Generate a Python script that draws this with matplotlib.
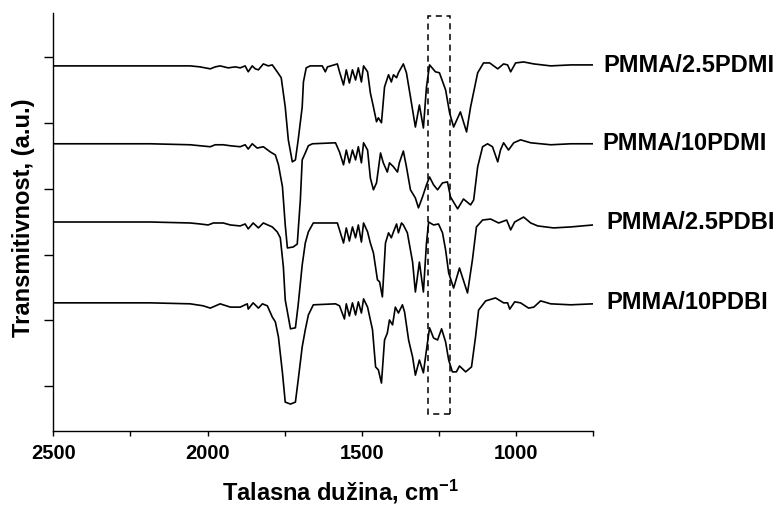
import matplotlib
matplotlib.use("Agg")
import matplotlib.pyplot as plt
from matplotlib.patches import Rectangle
from matplotlib.transforms import blended_transform_factory

plt.rcParams["font.family"] = ["Liberation Sans", "DejaVu Sans"]
plt.rcParams["font.weight"] = "bold"
plt.rcParams["mathtext.fontset"] = "custom"
plt.rcParams["mathtext.rm"] = "Liberation Sans:bold"
plt.rcParams["mathtext.bf"] = "Liberation Sans:bold"
plt.rcParams["mathtext.default"] = "bf"

# ------------------------------------------------------------
# data (stacked transmittance in a.u.)
# ------------------------------------------------------------

wn_25pdmi = [2500, 2348, 2186, 2056, 2024, 1991, 1975, 1959, 1933, 1910, 1894, 1878, 1868, 1855,
             1845, 1835, 1819, 1803, 1790, 1774, 1761, 1748, 1738, 1725, 1715, 1706, 1693, 1689,
             1680, 1667, 1628, 1618, 1611, 1579, 1572, 1559, 1550, 1540, 1530, 1520, 1511, 1501,
             1494, 1481, 1472, 1462, 1452, 1446, 1436, 1426, 1413, 1404, 1397, 1387, 1381, 1365,
             1355, 1342, 1326, 1313, 1300, 1290, 1280, 1261, 1248, 1228, 1215, 1202, 1180, 1160,
             1147, 1124, 1105, 1085, 1059, 1040, 1027, 1017, 1001, 975, 942, 887, 822, 750]
t_25pdmi = [117.4, 117.4, 117.4, 117.4, 117.1, 116.5, 117.1, 117.4, 116.8, 117.1, 116.8, 117.4,
            115.6, 117.4, 116.5, 116.2, 118.0, 117.4, 117.7, 115.6, 113.8, 104.9, 94.9, 88.2,
            88.8, 94.9, 104.9, 112.5, 116.8, 117.4, 117.4, 115.6, 117.1, 118.0, 115.6, 111.6,
            116.2, 112.2, 116.2, 113.1, 116.8, 112.5, 117.4, 115.6, 109.2, 104.9, 100.4, 101.6,
            100.1, 111.0, 114.7, 112.5, 114.7, 113.8, 115.3, 118.0, 115.3, 108.0, 98.8, 105.5,
            98.5, 111.0, 117.7, 115.6, 115.3, 110.1, 103.1, 98.8, 103.4, 97.3, 104.9, 115.3,
            118.3, 118.3, 116.5, 118.0, 117.7, 115.6, 118.3, 118.6, 118.0, 117.4, 117.7, 117.7]

wn_10pdmi = [2500, 2348, 2186, 2056, 2024, 1991, 1975, 1949, 1926, 1894, 1878, 1868, 1855, 1839,
             1819, 1796, 1780, 1770, 1757, 1748, 1741, 1722, 1709, 1699, 1693, 1683, 1673, 1660,
             1585, 1572, 1559, 1550, 1540, 1530, 1520, 1511, 1501, 1494, 1481, 1472, 1462, 1452,
             1439, 1430, 1417, 1410, 1397, 1384, 1378, 1365, 1355, 1342, 1326, 1316, 1303, 1290,
             1280, 1267, 1254, 1238, 1222, 1212, 1189, 1170, 1147, 1137, 1124, 1108, 1092, 1076,
             1059, 1050, 1040, 1024, 1007, 985, 952, 887, 822, 750]
t_10pdmi = [93.7, 93.7, 93.7, 93.4, 93.1, 92.8, 93.4, 93.4, 93.1, 92.8, 93.4, 92.1, 93.7, 92.4,
            92.8, 91.2, 90.3, 87.3, 80.6, 69.0, 62.0, 62.3, 63.2, 76.6, 88.8, 90.9, 93.1, 93.7,
            94.0, 91.2, 87.3, 91.8, 87.9, 91.8, 88.8, 92.8, 87.9, 94.0, 91.8, 83.3, 79.7, 81.8,
            90.9, 87.9, 85.1, 87.9, 86.7, 85.1, 87.9, 91.5, 86.7, 79.7, 77.2, 74.2, 77.5, 81.2,
            83.6, 81.2, 79.7, 81.8, 82.1, 77.5, 73.9, 76.9, 75.1, 76.6, 86.7, 92.8, 93.7, 92.8,
            88.2, 91.8, 94.0, 91.8, 94.0, 94.9, 94.0, 93.4, 93.7, 93.7]

wn_25pdbi = [2500, 2348, 2186, 2056, 2024, 1998, 1981, 1949, 1926, 1894, 1878, 1868, 1852, 1835,
             1819, 1790, 1774, 1764, 1754, 1748, 1731, 1715, 1706, 1693, 1683, 1673, 1657, 1579,
             1572, 1559, 1550, 1540, 1530, 1520, 1511, 1501, 1494, 1481, 1472, 1462, 1449, 1442,
             1433, 1423, 1413, 1404, 1397, 1387, 1381, 1371, 1365, 1352, 1335, 1326, 1313, 1300,
             1290, 1283, 1267, 1251, 1238, 1228, 1218, 1202, 1183, 1157, 1141, 1128, 1108, 1082,
             1056, 1030, 1017, 1004, 975, 952, 929, 878, 822, 750]
t_25pdbi = [69.9, 69.9, 69.9, 69.6, 69.3, 69.0, 69.6, 69.6, 69.0, 68.7, 69.3, 67.8, 69.6, 68.1,
            69.6, 68.4, 66.9, 65.1, 56.2, 46.2, 37.4, 37.7, 44.7, 56.8, 63.5, 66.9, 69.6, 69.6,
            67.5, 63.5, 68.1, 64.1, 68.4, 65.1, 69.0, 63.8, 69.6, 66.9, 63.5, 60.5, 52.3, 51.7,
            47.1, 63.5, 66.6, 65.1, 66.9, 69.3, 66.6, 69.6, 69.0, 66.6, 57.7, 48.6, 57.7, 48.6,
            63.5, 69.9, 69.0, 69.3, 66.6, 61.4, 54.4, 49.8, 55.9, 48.3, 58.4, 68.4, 70.5, 70.8,
            69.6, 70.5, 67.5, 69.9, 71.4, 69.6, 68.7, 68.1, 68.4, 69.0]

wn_10pdbi = [2500, 2348, 2186, 2056, 2014, 1991, 1959, 1926, 1894, 1871, 1868, 1852, 1835, 1822,
             1806, 1790, 1780, 1770, 1757, 1748, 1731, 1715, 1706, 1693, 1683, 1673, 1657, 1585,
             1572, 1556, 1550, 1540, 1530, 1520, 1511, 1501, 1494, 1481, 1465, 1455, 1446, 1436,
             1426, 1417, 1410, 1400, 1391, 1381, 1368, 1361, 1348, 1335, 1326, 1313, 1300, 1290,
             1280, 1267, 1254, 1241, 1228, 1218, 1206, 1193, 1183, 1163, 1144, 1131, 1121, 1098,
             1066, 1040, 1027, 1020, 1004, 985, 959, 942, 920, 887, 822, 750]
t_10pdbi = [45.3, 45.3, 45.3, 45.0, 44.4, 43.7, 45.0, 44.0, 44.0, 45.0, 43.4, 45.3, 43.7, 45.0,
            44.4, 41.0, 39.5, 34.9, 24.0, 15.1, 14.5, 15.1, 21.8, 31.9, 37.1, 41.6, 44.7, 45.0,
            44.4, 40.4, 45.0, 41.3, 45.3, 41.6, 45.6, 42.2, 46.5, 44.0, 37.1, 25.8, 24.9, 20.9,
            34.0, 36.1, 40.1, 38.6, 44.0, 42.2, 44.7, 42.5, 34.0, 28.8, 23.3, 27.9, 24.0, 31.0,
            37.7, 34.6, 34.0, 37.4, 33.4, 27.9, 24.3, 24.3, 26.1, 24.3, 25.8, 34.9, 43.1, 45.9,
            46.8, 45.3, 45.3, 43.4, 45.6, 45.3, 43.7, 44.0, 45.9, 45.0, 44.7, 45.0]

labels = ["PMMA/2.5PDMI", "PMMA/10PDMI", "PMMA/2.5PDBI", "PMMA/10PDBI"]
label_y = [117.4, 93.7, 69.9, 45.3]

# marked region (dashed box)
box_wn = (1286, 1215)
box_t = (11.5, 132.5)

# ------------------------------------------------------------
# plot
# ------------------------------------------------------------

fig = plt.figure(figsize=(7.76, 5.09), dpi=100)
ax = fig.add_axes([0.0687, 0.1532, 0.6955, 0.8213])

series = [(wn_25pdmi, t_25pdmi), (wn_10pdmi, t_10pdmi),
          (wn_25pdbi, t_25pdbi), (wn_10pdbi, t_10pdbi)]
for wn, t in series:
    ax.plot(wn, t, color="black", lw=1.2)

ax.add_patch(Rectangle((box_wn[1], box_t[0]), box_wn[0] - box_wn[1], box_t[1] - box_t[0],
                       fill=False, ls=(0, (4, 3)), lw=1.1, ec="black"))

tr = blended_transform_factory(ax.transAxes, ax.transData)
lab_x = [1.020, 1.018, 1.025, 1.025]
for name, y, x in zip(labels, label_y, lab_x):
    ax.text(x, y, name, transform=tr, ha="left", va="center", fontsize=17,
            fontweight="bold", clip_on=False)

ax.set_xlim(2500, 750)
ax.set_ylim(6.3, 133.5)

ax.set_xticks([2500, 2000, 1500, 1000])
ax.set_xticks([2250, 1750, 1250, 750], minor=True)
ax.set_yticks([20, 40, 60, 80, 100, 120])
ax.set_yticklabels([])

for s in ["top", "right"]:
    ax.spines[s].set_visible(False)
for s in ["left", "bottom"]:
    ax.spines[s].set_linewidth(1.0)

ax.tick_params(axis="x", which="both", direction="out", length=3.5, width=1.0,
               labelsize=14.5, pad=6)
ax.tick_params(axis="y", direction="out", length=6.5, width=1.0)

ax.set_xlabel("Talasna dužina, cm$^{-1}$", fontsize=17, fontweight="bold")
ax.set_ylabel("Transmitivnost, (a.u.)", fontsize=17, fontweight="bold")
ax.xaxis.set_label_coords(0.533, -0.112)
ax.yaxis.set_label_coords(-0.034, 0.51)

fig.savefig("out.png", dpi=100)
